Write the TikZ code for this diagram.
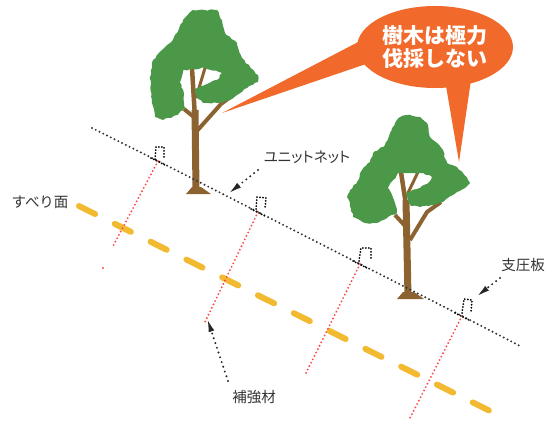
\documentclass[tikz,border=0pt]{standalone}
\usepackage{fontspec}
\newfontfamily\jp{Noto Sans CJK JP}
\usetikzlibrary{arrows.meta,shapes.geometric,decorations.pathmorphing}
\definecolor{leaf}{RGB}{74,152,72}
\definecolor{bark}{RGB}{140,98,48}
\definecolor{callout}{RGB}{241,106,44}
\definecolor{slipline}{RGB}{242,186,48}
\definecolor{rebar}{RGB}{255,72,72}
\tikzset{
  lbl/.style={font=\jp\fontsize{14.5}{15}\selectfont, text=black!80, inner sep=0pt},
  say/.style={ellipse, fill=callout, minimum width=156pt, minimum height=82pt, inner sep=0pt,
    text=white, align=center, font=\jp\bfseries\fontsize{21}{23}\selectfont},
  crown/.style={leaf, decorate, decoration={random steps, segment length=3pt, amplitude=0.8pt}},
  ground/.style={black!80, line width=2.2pt, line cap=round, dash pattern=on 0pt off 4.2pt},
  bar/.style={rebar, line width=2.1pt, line cap=round, dash pattern=on 0pt off 3.8pt},
  plate/.style={black, line width=2pt, line cap=round, dash pattern=on 0pt off 3pt},
  ptr/.style={black!85, line width=2.2pt, line cap=round, dash pattern=on 0pt off 5pt,
    -{Latex[length=14pt,width=6pt]}},
  slip/.style={slipline, line width=6pt, line cap=round, dash pattern=on 18pt off 22pt},
}
\pgfmathsetseed{11}

\begin{document}
\begin{tikzpicture}[x=1pt, y=-1pt]
        \useasboundingbox (0,0) rectangle (547,423);
        \coordinate (G0) at (92,128);
        \coordinate (A1) at (158,161);
        \coordinate (A2) at (258,212);
        \coordinate (A3) at (360,264);
        \coordinate (A4) at (462,316);
        \coordinate (G1) at (522,347);
        \coordinate (E1) at (112,248);
        \coordinate (D1) at (103,268);
        \coordinate (E2) at (205,322);
        \coordinate (E3) at (306,373);
        \coordinate (E4) at (410,418);
        \coordinate (S0) at (79,206);
        \coordinate (S1) at (490,411);

        % left tree: trunk first, crown over it
        \draw[bark, line width=7pt] (196,190) -- (195,110);
        \draw[bark, line width=4.5pt] (195,118) -- (192,68);
        \draw[bark, line width=4pt, line join=round] (196,132) -- (221,104) -- (233,95);
        \draw[bark, line width=4pt] (195,118) -- (184,109);
        \draw[bark, line width=3pt] (196,98) -- (205,68);
        \fill[bark] (186,194) -- (192,187) -- (201,187) -- (211,194) -- cycle;
        \fill[crown] (163,120) -- (155,117) -- (152,100) -- (150,77) -- (153,60) -- (162,50)
          -- (170,43) -- (177,33) -- (183,20) -- (193,10) -- (217,10) -- (222,20) -- (225,33)
          -- (237,43) -- (242,58) -- (250,67) -- (258,75) -- (258,82) -- (247,88) -- (237,95)
          -- (230,100) -- (217,103) -- (203,103) -- (197,98) -- (195,89) -- (207,84) -- (217,80)
          -- (222,73) -- (205,68) -- (183,70) -- (180,82) -- (184,94) -- (185,108) -- (177,115) -- cycle;

        % right tree
        \draw[bark, line width=7pt] (408,297) -- (406,200);
        \draw[bark, line width=4.5pt] (406,205) -- (401,172);
        \draw[bark, line width=4pt, line join=round] (410,240) -- (427,212) -- (441,202);
        \draw[bark, line width=4pt] (407,228) -- (395,215);
        \draw[bark, line width=3pt] (407,195) -- (418,172);
        \fill[bark] (397,299) -- (403,292) -- (414,292) -- (424,299) -- cycle;
        \fill[crown] (395,203) -- (397,213) -- (387,218) -- (377,223) -- (365,223) -- (353,217)
          -- (350,203) -- (347,197) -- (350,190) -- (357,182) -- (362,170) -- (370,162)
          -- (373,153) -- (385,145) -- (390,133) -- (395,123) -- (400,117) -- (407,115)
          -- (420,117) -- (427,123) -- (430,137) -- (437,143) -- (443,150) -- (447,163)
          -- (457,167) -- (463,173) -- (470,183) -- (465,188) -- (453,195) -- (443,202)
          -- (432,205) -- (420,207) -- (411,206) -- (405,193) -- (417,189) -- (427,184)
          -- (432,177) -- (423,173) -- (412,173) -- (398,173) -- (388,188) -- (392,195) -- cycle;

        \draw[slip] (S0) -- (S1);
        \draw[bar] (A1) -- (E1);
        \fill[rebar] (D1) circle (1.1pt);
        \draw[bar] (A2) -- (E2);
        \draw[bar] (A3) -- (E3);
        \draw[bar] (A4) -- (E4);
        \draw[ground] (G0) -- (A1) -- (A2) -- (A3) -- (A4) -- (G1);

        % bearing plates
        \draw[plate] (A1) ++(-7,-3) -- ++(16,8);
        \draw[plate] (A1) ++(-3,-2) -- ++(1,-12) -- ++(8,0) -- ++(0,10);
        \draw[plate] (A2) ++(-7,-3) -- ++(16,8);
        \draw[plate] (A2) ++(-2,-3) -- ++(1,-12) -- ++(9,1) -- ++(-1,10);
        \draw[plate] (A3) ++(-7,-3) -- ++(16,8);
        \draw[plate] (A3) ++(-1,-3) -- ++(2,-13) -- ++(10,0) -- ++(0,11);
        \draw[plate] (A4) ++(-7,-3) -- ++(16,8);
        \draw[plate] (A4) ++(0,-3) -- ++(2,-14) -- ++(8,1) -- ++(-1,13);

        % callout
        \fill[callout] (362,40) -- (222,113) -- (366,64) -- cycle;
        \fill[callout] (445,80) -- (459,162) -- (471,80) -- cycle;
        \node[say] (say) at (435,47) {樹木は極力\\伐採しない};

        % labels
        \node[lbl] (slipface) at (40,202) {すべり面};
        \node[lbl] (unitnet) at (307,157) {\addfontfeature{RawFeature=+palt}ユニットネット};
        \node[lbl] (bearing) at (523,265) {支圧板};
        \node[lbl] (rebarname) at (254,397) {補強材};
        \coordinate (netS) at (258,170);
        \coordinate (netT) at (228,194);
        \coordinate (brS) at (500,278);
        \coordinate (brT) at (476,297);
        \coordinate (rbS) at (228,381);
        \coordinate (rbT) at (207,318);
        \draw[ptr] (netS) -- (netT);
        \draw[ptr] (brS) -- (brT);
        \draw[ptr] (rbS) -- (rbT);
\end{tikzpicture}
\end{document}
